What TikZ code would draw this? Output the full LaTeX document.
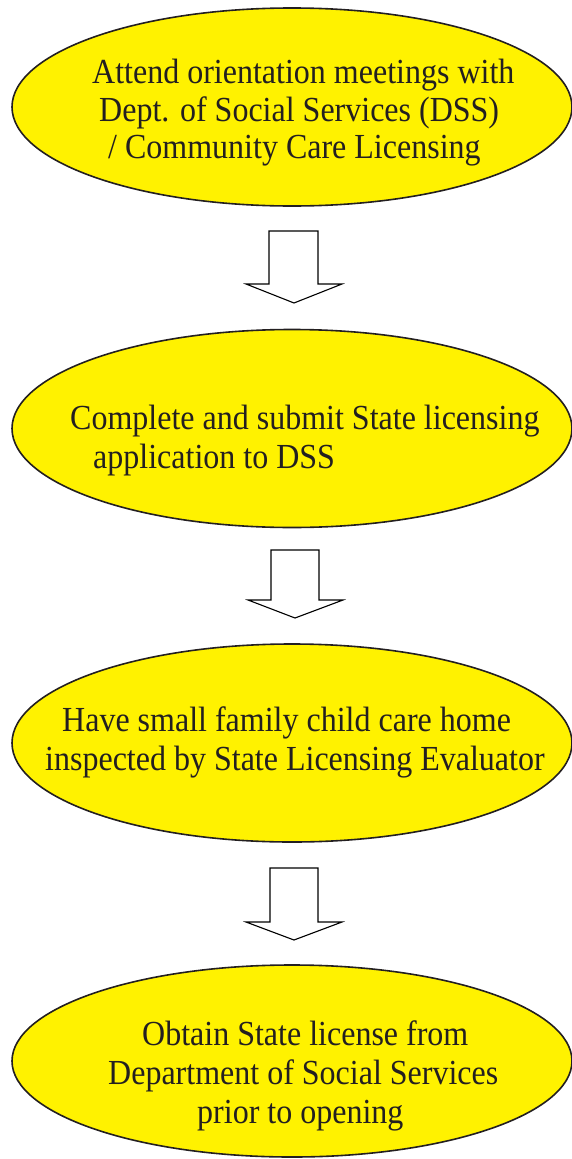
\documentclass[tikz,border=0pt]{standalone}
\usepackage{fontspec}
\setmainfont{Liberation Serif}
\usetikzlibrary{shapes.geometric}
\definecolor{ink}{HTML}{231F20}
\definecolor{fillyellow}{HTML}{FFF200}
\newcommand{\tallline}[1]{\scalebox{1}[1.1]{#1}}
\tikzset{
  oval/.style={ellipse, draw=ink, line width=1.6pt, fill=fillyellow, minimum width=560pt, minimum height=198pt, inner sep=0pt},
  txt/.style={anchor=base west, inner sep=0pt, text=ink, font=\fontsize{32}{38}\selectfont},
  blockarrow/.style={draw=black, line width=1.1pt, fill=white, line join=miter}
}
\begin{document}
\begin{tikzpicture}[x=1pt,y=-1pt]
\useasboundingbox (0,0) rectangle (572,1159);
% ellipses
\node[oval] (e1) at (292,107) {};
\node[oval] (e2) at (292,428.5) {};
\node[oval] (e3) at (292,743) {};
\node[oval, minimum height=192pt] (e4) at (292,1061) {};
% texts
\node[txt] (t1a) at (92,83) {\tallline{Attend orientation meetings with}};
\node[txt] (t1b) at (99,121) {\tallline{Dept. of Social Services (DSS)}};
\node[txt] (t1c) at (108,158) {\tallline{/ Community Care Licensing}};
\node[txt] (t2a) at (70,429) {\tallline{Complete and submit State licensing}};
\node[txt] (t2b) at (93,468) {\tallline{application to DSS}};
\node[txt] (t3a) at (62,731) {\tallline{Have small family child care home}};
\node[txt] (t3b) at (45,770) {\tallline{inspected by State Licensing Evaluator}};
\node[txt] (t4a) at (142,1045) {\tallline{Obtain State license from}};
\node[txt] (t4b) at (108,1084) {\tallline{Department of Social Services}};
\node[txt] (t4c) at (197,1123) {\tallline{prior to opening}};
% block arrows
\draw[blockarrow] (269,231) -- (318,231) -- (318,284) -- (342,284) -- (294,303) -- (246,284) -- (269,284) -- cycle;
\draw[blockarrow] (271,550) -- (319,550) -- (319,600) -- (343,600) -- (295,618) -- (248,600) -- (271,600) -- cycle;
\draw[blockarrow] (270,868) -- (318,868) -- (318,922) -- (342,922) -- (294,940) -- (246,922) -- (270,922) -- cycle;
\end{tikzpicture}
\end{document}
